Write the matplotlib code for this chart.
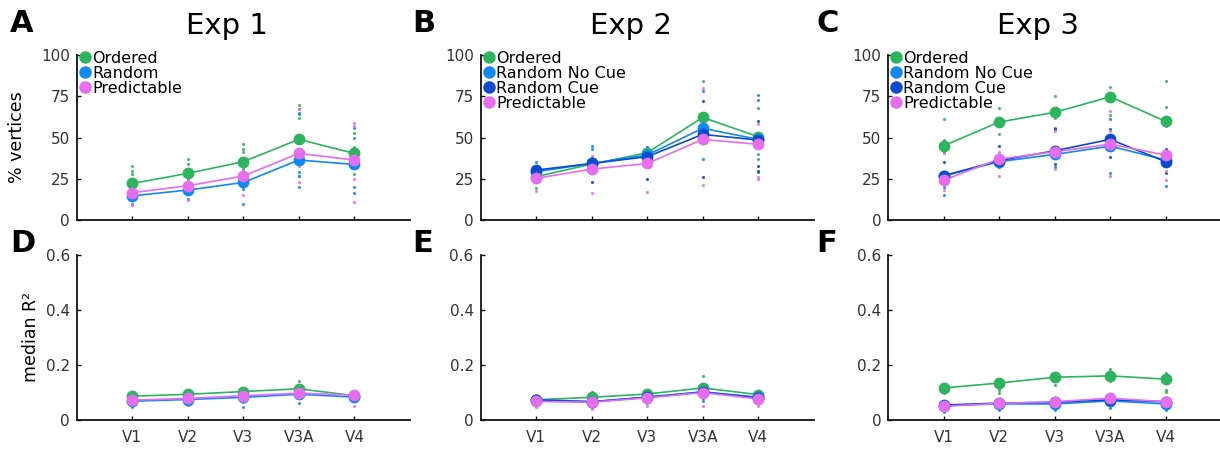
import matplotlib
matplotlib.use("Agg")
import matplotlib.pyplot as plt
from matplotlib.lines import Line2D

# ---------------- data ----------------
rois = ["V1", "V2", "V3", "V3A", "V4"]
titles = ["Exp 1", "Exp 2", "Exp 3"]
letters_top = ["A", "B", "C"]
letters_bot = ["D", "E", "F"]
labels_exp1 = ["Ordered", "Random", "Predictable"]
labels_exp23 = ["Ordered", "Random No Cue", "Random Cue", "Predictable"]
pct_ticks = [0, 25, 50, 75, 100]
r2_ticks = [0, 0.2, 0.4, 0.6]

# % vertices, group means
e1_pct_ordered = [22.2, 28.3, 35.4, 48.9, 40.4]
e1_pct_random = [14.7, 18.2, 22.8, 36.4, 33.7]
e1_pct_predict = [16.6, 20.8, 26.7, 40.4, 36.4]
e2_pct_ordered = [26.3, 33.9, 40.8, 62.2, 50.5]
e2_pct_rnocue = [29.3, 34.3, 39.4, 55.6, 48.9]
e2_pct_rcue = [30.3, 34.3, 38.4, 51.9, 48.5]
e2_pct_predict = [25.3, 30.9, 34.3, 48.9, 45.9]
e3_pct_ordered = [45.0, 59.4, 65.3, 74.7, 59.8]
e3_pct_rnocue = [26.7, 35.4, 39.8, 44.8, 36.4]
e3_pct_rcue = [26.9, 36.0, 42.0, 48.9, 35.4]
e3_pct_predict = [24.2, 37.0, 41.4, 46.0, 39.4]

# median R^2, group means
e1_r2_ordered = [0.086, 0.093, 0.103, 0.113, 0.088]
e1_r2_random = [0.068, 0.074, 0.082, 0.093, 0.083]
e1_r2_predict = [0.072, 0.078, 0.088, 0.097, 0.090]
e2_r2_ordered = [0.073, 0.082, 0.094, 0.116, 0.092]
e2_r2_rnocue = [0.074, 0.066, 0.083, 0.102, 0.082]
e2_r2_rcue = [0.072, 0.066, 0.082, 0.101, 0.081]
e2_r2_predict = [0.067, 0.064, 0.080, 0.099, 0.076]
e3_r2_ordered = [0.116, 0.134, 0.155, 0.160, 0.148]
e3_r2_rnocue = [0.052, 0.058, 0.058, 0.069, 0.058]
e3_r2_rcue = [0.054, 0.061, 0.064, 0.073, 0.066]
e3_r2_predict = [0.049, 0.060, 0.066, 0.079, 0.066]

# individual subject points (per ROI)
e1_pct_ordered_pts = [[33, 30, 28, 24], [37, 34, 31, 25], [46, 43, 41, 31], [70, 67, 62, 27], [53, 44, 28]]
e1_pct_random_pts = [[12, 10, 18], [13, 16, 23], [10, 19, 28], [65, 64, 29, 27, 20], [56, 50, 20, 16.5]]
e1_pct_predict_pts = [[9, 23, 19], [12, 17, 25], [15.5, 30, 22], [67, 23, 33], [59, 57, 11, 25]]
e2_pct_ordered_pts = [[19.6, 28], [38, 30], [44, 36], [84, 58], [68, 40, 37]]
e2_pct_rnocue_pts = [[35, 33], [45, 43], [42, 44], [78, 37], [76, 73, 29]]
e2_pct_rcue_pts = [[23, 31], [23, 36], [25, 40], [72, 26], [60, 33, 30]]
e2_pct_predict_pts = [[17.8, 28], [16.6, 39], [17, 37], [80, 21], [58, 25, 26]]
e3_pct_ordered_pts = [[61, 48.5], [67.7, 52], [75.4, 61.6], [80.4, 63.6], [84.4, 68.3]]
e3_pct_rnocue_pts = [[15, 20], [32, 38], [32, 55.6], [28.7, 61], [57, 20.8]]
e3_pct_rcue_pts = [[41.4, 35.4], [44.8, 33], [34, 55], [38, 55], [42.8, 28.7]]
e3_pct_predict_pts = [[40.4, 18], [41.4, 27], [31, 54], [66, 54, 27], [24, 30]]

e1_r2_ordered_pts = [[0.09], [0.098], [0.108], [0.143, 0.125], [0.09]]
e1_r2_random_pts = [[0.048], [0.06], [0.048], [0.061], [0.075]]
e1_r2_predict_pts = [[0.062], [0.055], [0.065], [0.08], [0.051]]
e2_r2_ordered_pts = [[0.078], [0.103], [0.1], [0.158], [0.098]]
e2_r2_rnocue_pts = [[0.06], [0.05], [0.06], [0.067], [0.07]]
e2_r2_rcue_pts = [[0.062], [0.055], [0.07], [0.08], [0.07]]
e2_r2_predict_pts = [[0.048], [0.04], [0.051], [0.052], [0.052]]
e3_r2_ordered_pts = [[0.097], [0.109, 0.097], [0.127], [0.184, 0.143], [0.17, 0.103, 0.11]]
e3_r2_rnocue_pts = [[0.03], [0.036], [0.036], [0.042], [0.036]]
e3_r2_rcue_pts = [[0.045], [0.045], [0.05], [0.055], [0.045]]
e3_r2_predict_pts = [[0.04], [0.045], [0.05], [0.06], [0.05]]

# ---------------- style ----------------
c_ordered = "#2db45f"
c_rnocue = "#1089f6"
c_rcue = "#0a4bd0"
c_predict = "#e66cf0"

exp1_colors = [c_ordered, c_rnocue, c_predict]
exp23_colors = [c_ordered, c_rnocue, c_rcue, c_predict]

fig = plt.figure(figsize=(12.2, 4.51), dpi=100)
plt.rcParams["font.family"] = ["DejaVu Sans"]

lefts = [0.063, 0.394, 0.728]
letter_x = [0.008, 0.338, 0.669]
w = 0.273
h = 0.366
top_bottom = 0.512
bot_bottom = 0.069

x = list(range(1, 6))

top_data = [
    (labels_exp1, exp1_colors,
     [e1_pct_ordered, e1_pct_random, e1_pct_predict],
     [e1_pct_ordered_pts, e1_pct_random_pts, e1_pct_predict_pts]),
    (labels_exp23, exp23_colors,
     [e2_pct_ordered, e2_pct_rnocue, e2_pct_rcue, e2_pct_predict],
     [e2_pct_ordered_pts, e2_pct_rnocue_pts, e2_pct_rcue_pts, e2_pct_predict_pts]),
    (labels_exp23, exp23_colors,
     [e3_pct_ordered, e3_pct_rnocue, e3_pct_rcue, e3_pct_predict],
     [e3_pct_ordered_pts, e3_pct_rnocue_pts, e3_pct_rcue_pts, e3_pct_predict_pts]),
]
bot_data = [
    (exp1_colors, [e1_r2_ordered, e1_r2_random, e1_r2_predict],
     [e1_r2_ordered_pts, e1_r2_random_pts, e1_r2_predict_pts]),
    (exp23_colors, [e2_r2_ordered, e2_r2_rnocue, e2_r2_rcue, e2_r2_predict],
     [e2_r2_ordered_pts, e2_r2_rnocue_pts, e2_r2_rcue_pts, e2_r2_predict_pts]),
    (exp23_colors, [e3_r2_ordered, e3_r2_rnocue, e3_r2_rcue, e3_r2_predict],
     [e3_r2_ordered_pts, e3_r2_rnocue_pts, e3_r2_rcue_pts, e3_r2_predict_pts]),
]


def style_axes(ax):
    for s in ["top", "right"]:
        ax.spines[s].set_visible(False)
    for s in ["left", "bottom"]:
        ax.spines[s].set_linewidth(1.3)
        ax.spines[s].set_color("#111111")
    ax.tick_params(direction="in", length=3, width=1, labelsize=11,
                   labelcolor="#333333", color="#111111", pad=5)
    ax.set_xlim(0, 6)
    ax.set_xticks(x)


def draw(ax, colors, means, pts):
    for col, m, p in zip(colors, means, pts):
        for i, vals in enumerate(p):
            ax.plot([x[i]] * len(vals), vals, "o", ms=2.2, color=col,
                    mec="none", alpha=0.9, zorder=2)
    for col, m in zip(colors, means):
        ax.plot(x, m, "-", color=col, lw=1.2, zorder=3)
        ax.plot(x, m, "o", color=col, ms=8.5, mec="none", zorder=4)


for k in range(3):
    labels, colors, means, pts = top_data[k]
    ax = fig.add_axes([lefts[k], top_bottom, w, h])
    style_axes(ax)
    draw(ax, colors, means, pts)
    ax.set_ylim(0, 100)
    ax.set_yticks(pct_ticks)
    ax.set_xticklabels([])
    if k == 0:
        ax.set_ylabel("% vertices", fontsize=12.5, labelpad=11)
    ax.set_title(titles[k], fontsize=21, pad=15, x=0.45)
    handles = [Line2D([], [], ls="none", marker="o", ms=9, color=c, mec="none")
               for c in colors]
    ax.legend(handles, labels, loc="upper left", bbox_to_anchor=(0.005, 1.035),
              frameon=False, fontsize=11.5, handlelength=0.6,
              handletextpad=0.15, labelspacing=0.0, borderpad=0.1,
              borderaxespad=0.0)
    fig.text(letter_x[k], 0.947, letters_top[k], fontsize=22,
             fontweight="bold", va="center", ha="left")

    colors_b, means_b, pts_b = bot_data[k]
    axb = fig.add_axes([lefts[k], bot_bottom, w, h])
    style_axes(axb)
    draw(axb, colors_b, means_b, pts_b)
    axb.set_ylim(0, 0.6)
    axb.set_yticks(r2_ticks)
    axb.set_yticklabels(["0", "0.2", "0.4", "0.6"])
    axb.set_xticklabels(rois)
    axb.tick_params(axis="x", pad=7)
    if k == 0:
        axb.set_ylabel("median R²", fontsize=12.5, labelpad=4)
    fig.text(letter_x[k], 0.461, letters_bot[k], fontsize=22,
             fontweight="bold", va="center", ha="left")

fig.savefig("out.png", dpi=100)
